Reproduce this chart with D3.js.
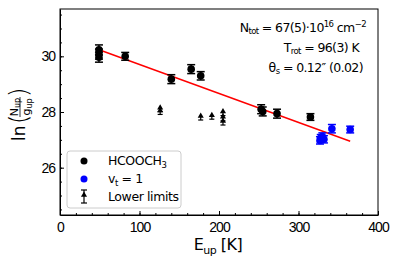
<!DOCTYPE html>
<html>
<head>
<meta charset="utf-8">
<script src="https://cdn.jsdelivr.net/npm/d3@7"></script>
<style>
  body { margin: 0; background: #fff; }
  svg { font-family: 'DejaVu Sans', sans-serif; }
  .eje text { font-size: 14px; letter-spacing: -1px; fill: #000; }
  .eje path, .eje line { stroke: #000; }
</style>
</head>
<body>
<div id="graf"></div>
<script>
// Datos
negroE   = [49, 49, 49, 82, 140, 165, 177, 253, 255, 273, 315]
negroLn  = [30.23, 30.08, 29.97, 30.0, 29.18, 29.54, 29.3, 28.1, 28.02, 27.94, 27.82]
negroErr = [0.18, 0.18, 0.18, 0.14, 0.16, 0.16, 0.15, 0.16, 0.16, 0.16, 0.12]

azulE   = [327, 328, 330, 332, 342, 365]
azulLn  = [26.98, 27.06, 27.12, 27.02, 27.4, 27.37]
azulErr = [0.13, 0.13, 0.13, 0.13, 0.15, 0.12]

limE  = [126, 126, 177, 191, 205, 205, 205]
limLn = [28.12, 28.02, 27.82, 27.85, 27.98, 27.79, 27.64]

ajusteE = [50, 365]
trot = 96
intercepto = 30.75

ticksX = [0, 100, 200, 300, 400]
ticksY = [26, 28, 30]

ancho_total = 399
alto_total = 266
margen = { superior: 9, izquierdo: 60, derecho: 21, inferior: 51 }
ancho = ancho_total - margen.izquierdo - margen.derecho
alto = alto_total - margen.superior - margen.inferior

svg = d3.select('#graf').append('svg')
  .attr('width', ancho_total)
  .attr('height', alto_total)

g = svg.append('g')
  .attr('transform', `translate(${margen.izquierdo}, ${margen.superior})`)

x = d3.scaleLinear().domain([0, 400]).range([0, ancho])
y = d3.scaleLinear().domain([24.3, 31.7]).range([alto, 0])

// Ejes con ticks hacia adentro
xAxisGroup = g.append('g').attr('class', 'eje')
  .attr('transform', `translate(0, ${alto})`)
  .call(d3.axisBottom(x).tickValues(ticksX).tickSizeInner(-4).tickSizeOuter(0).tickPadding(5))
xAxisGroup.selectAll('.tick text').attr('dy', '0.85em')
g.append('g').attr('class', 'eje')
  .attr('transform', `translate(0, ${alto})`)
  .call(d3.axisBottom(x).tickValues(d3.range(0, 401, 20)).tickSizeInner(-2).tickSizeOuter(0).tickFormat(''))
  .select('.domain').remove()

yAxisGroup = g.append('g').attr('class', 'eje')
  .call(d3.axisLeft(y).tickValues(ticksY).tickSizeInner(-4).tickSizeOuter(0).tickPadding(5))
g.append('g').attr('class', 'eje')
  .call(d3.axisLeft(y).tickValues(d3.range(24.5, 31.6, 0.5)).tickSizeInner(-2).tickSizeOuter(0).tickFormat(''))
  .select('.domain').remove()

// marco
g.append('rect')
  .attr('width', ancho).attr('height', alto)
  .attr('fill', 'none').attr('stroke', '#000').attr('stroke-width', 1)

// linea de ajuste
g.append('line')
  .attr('x1', x(ajusteE[0])).attr('y1', y(intercepto - ajusteE[0] / trot))
  .attr('x2', x(ajusteE[1])).attr('y2', y(intercepto - ajusteE[1] / trot))
  .attr('stroke', '#ff0000').attr('stroke-width', 1.5)

function barrasError(datos, color) {
  cap = 4
  sel = g.append('g').selectAll('g').data(datos).enter().append('g')
  sel.append('line')
    .attr('x1', d => x(d.e)).attr('x2', d => x(d.e))
    .attr('y1', d => y(d.v - d.err)).attr('y2', d => y(d.v + d.err))
    .attr('stroke', color).attr('stroke-width', 1.5)
  sel.append('line')
    .attr('x1', d => x(d.e) - cap).attr('x2', d => x(d.e) + cap)
    .attr('y1', d => y(d.v + d.err)).attr('y2', d => y(d.v + d.err))
    .attr('stroke', color).attr('stroke-width', 1.5)
  sel.append('line')
    .attr('x1', d => x(d.e) - cap).attr('x2', d => x(d.e) + cap)
    .attr('y1', d => y(d.v - d.err)).attr('y2', d => y(d.v - d.err))
    .attr('stroke', color).attr('stroke-width', 1.5)
  return sel
}

negros = negroE.map((e, i) => ({ e: e, v: negroLn[i], err: negroErr[i] }))
azules = azulE.map((e, i) => ({ e: e, v: azulLn[i], err: azulErr[i] }))
limites = limE.map((e, i) => ({ e: e, v: limLn[i], err: 0.07 }))

barrasError(negros, '#000')
  .append('circle').attr('cx', d => x(d.e)).attr('cy', d => y(d.v)).attr('r', 3.8).attr('fill', '#000')
barrasError(azules, '#0000ff')
  .append('circle').attr('cx', d => x(d.e)).attr('cy', d => y(d.v)).attr('r', 3.8).attr('fill', '#0000ff')

tri = d3.symbol().type(d3.symbolTriangle).size(16)
limG = g.append('g').selectAll('g').data(limites).enter().append('g')
limG.append('line')
  .attr('x1', d => x(d.e)).attr('x2', d => x(d.e))
  .attr('y1', d => y(d.v)).attr('y2', d => y(d.v) + 3)
  .attr('stroke', '#000').attr('stroke-width', 1.2)
limG.append('line')
  .attr('x1', d => x(d.e) - 2.5).attr('x2', d => x(d.e) + 2.5)
  .attr('y1', d => y(d.v) + 3).attr('y2', d => y(d.v) + 3)
  .attr('stroke', '#000').attr('stroke-width', 1.2)
limG.append('path')
  .attr('d', tri)
  .attr('transform', d => `translate(${x(d.e)}, ${y(d.v) - 1})`)
  .attr('fill', '#000')

// Texto de parametros
params = svg.append('g').style('font-size', '12.5px').style('letter-spacing', '-0.6px')
t1 = params.append('text').attr('x', 366).attr('y', 32).attr('text-anchor', 'end')
t1.append('tspan').text('N')
t1.append('tspan').text('tot').style('font-size', '8.5px').attr('dy', 2)
t1.append('tspan').text(' = 67(5)·10').attr('dy', -2)
t1.append('tspan').text('16').style('font-size', '8.5px').attr('dy', -5)
t1.append('tspan').text(' cm').attr('dy', 5)
t1.append('tspan').text('−2').style('font-size', '8.5px').attr('dy', -5)

t2 = params.append('text').attr('x', 359).attr('y', 52).attr('text-anchor', 'end')
t2.append('tspan').text('T')
t2.append('tspan').text('rot').style('font-size', '8.5px').attr('dy', 2)
t2.append('tspan').text(' = 96(3) K').attr('dy', -2)

t3 = params.append('text').attr('x', 363).attr('y', 72).attr('text-anchor', 'end')
t3.append('tspan').text('θ')
t3.append('tspan').text('s').style('font-size', '8.5px').attr('dy', 2)
t3.append('tspan').text(' = 0.12″ (0.02)').attr('dy', -2)

// Leyenda
leyenda = svg.append('g')
leyenda.append('rect')
  .attr('x', 67).attr('y', 151).attr('width', 114).attr('height', 57).attr('rx', 3)
  .attr('fill', '#fff').attr('fill-opacity', 0.8).attr('stroke', '#ccc').attr('stroke-width', 1)
leyenda.append('circle').attr('cx', 84).attr('cy', 161).attr('r', 3.5).attr('fill', '#000')
leyenda.append('circle').attr('cx', 84).attr('cy', 179).attr('r', 3.5).attr('fill', '#0000ff')
leyenda.append('line').attr('x1', 84).attr('x2', 84).attr('y1', 190).attr('y2', 203).attr('stroke', '#000').attr('stroke-width', 1.2)
leyenda.append('line').attr('x1', 81).attr('x2', 87).attr('y1', 190).attr('y2', 190).attr('stroke', '#000').attr('stroke-width', 1.2)
leyenda.append('line').attr('x1', 81).attr('x2', 87).attr('y1', 203).attr('y2', 203).attr('stroke', '#000').attr('stroke-width', 1.2)
leyenda.append('path').attr('d', tri).attr('transform', 'translate(84, 195)').attr('fill', '#000')

ltxt = leyenda.append('g').style('font-size', '12.5px').style('letter-spacing', '-0.4px')
l1 = ltxt.append('text').attr('x', 108).attr('y', 165)
l1.append('tspan').text('HCOOCH')
l1.append('tspan').text('3').style('font-size', '8.5px').attr('dy', 3)
l2 = ltxt.append('text').attr('x', 108).attr('y', 183)
l2.append('tspan').text('v')
l2.append('tspan').text('t').style('font-size', '8.5px').attr('dy', 3)
l2.append('tspan').text(' = 1').attr('dy', -3)
ltxt.append('text').attr('x', 108).attr('y', 201).text('Lower limits')

// Titulos de ejes
xt = svg.append('text').attr('x', 218).attr('y', 250).attr('text-anchor', 'middle')
  .style('font-size', '16px').style('letter-spacing', '-0.5px')
xt.append('tspan').text('E')
xt.append('tspan').text('up').style('font-size', '11px').attr('dy', 4)
xt.append('tspan').text(' [K]').attr('dy', -4)

// Etiqueta Y: ln(N_up / g_up)
yl = svg.append('g').attr('transform', 'translate(25, 114) rotate(-90)')
yl.append('text').attr('x', -27).attr('y', 0).style('font-size', '17px').text('ln')
yl.append('text').attr('x', -10).attr('y', 2).style('font-size', '24px').style('font-weight', '300').text('(')
yl.append('text').attr('x', 7).attr('y', -7).attr('text-anchor', 'middle').style('font-size', '11px').text('N')
  .append('tspan').text('up').style('font-size', '8px').attr('dy', 2)
yl.append('line').attr('x1', -3).attr('x2', 17).attr('y1', -5).attr('y2', -5).attr('stroke', '#000').attr('stroke-width', 0.8)
yl.append('text').attr('x', 7).attr('y', 5).attr('text-anchor', 'middle').style('font-size', '11px').text('g')
  .append('tspan').text('up').style('font-size', '8px').attr('dy', 2)
yl.append('text').attr('x', 17).attr('y', 2).style('font-size', '24px').style('font-weight', '300').text(')')
</script>
</body>
</html>
